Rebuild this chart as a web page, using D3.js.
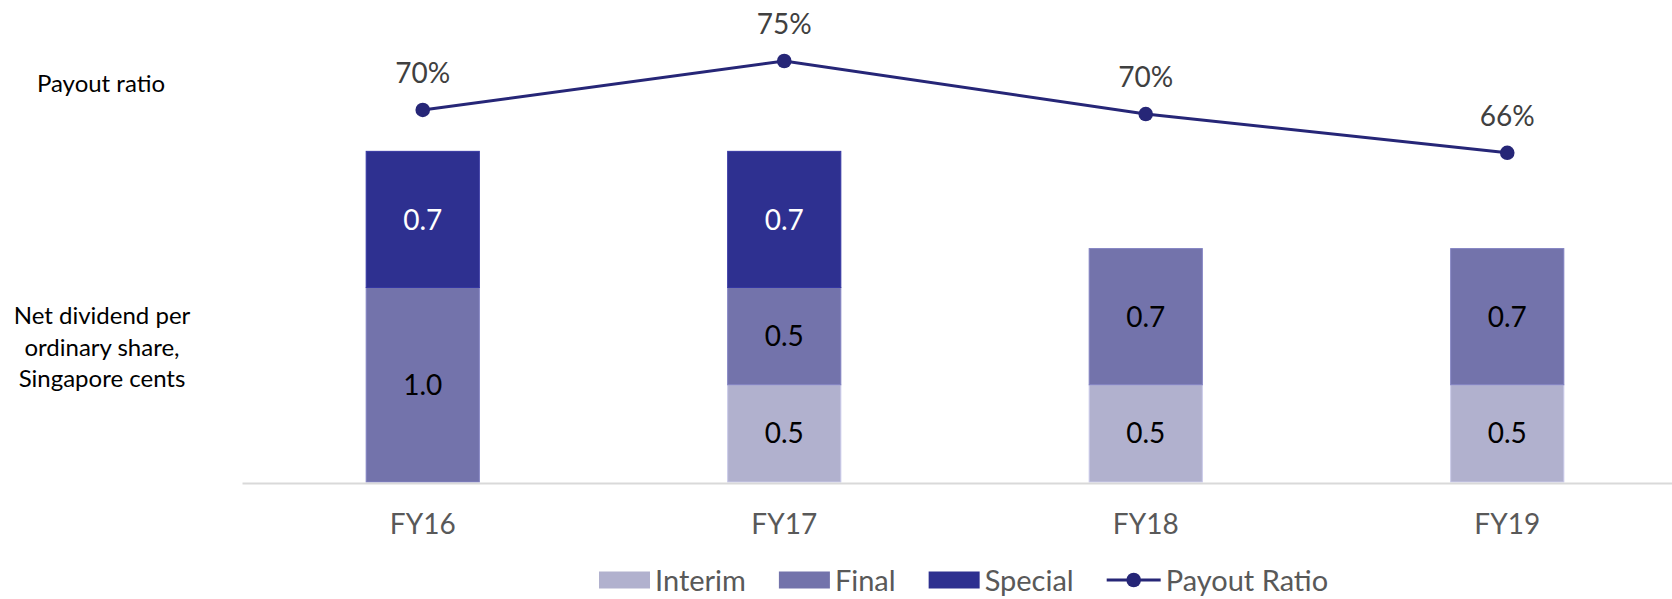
<!DOCTYPE html>
<html>
<head>
<meta charset="utf-8">
<script src="https://cdn.jsdelivr.net/npm/d3@7"></script>
<style>
  html, body { margin: 0; padding: 0; background: #fff; }
  svg { display: block; font-family: Lato, "Open Sans", sans-serif; }
</style>
</head>
<body>
<svg id="chart" width="1672" height="599"></svg>
<script>
// ---- data ----
const categories = ["FY16", "FY17", "FY18", "FY19"];
const seriesNames = ["Interim", "Final", "Special"];
const interim = [0, 0.5, 0.5, 0.5];
const finalDiv = [1.0, 0.5, 0.7, 0.7];
const special = [0.7, 0.7, 0, 0];
const payoutRatio = [0.702, 0.75, 0.698, 0.66];
const lineName = "Payout Ratio";
const leftLabelTop = ["Payout ratio"];
const leftLabelBottom = ["Net dividend per", "ordinary share,", "Singapore cents"];

// ---- styles ----
const colors = { Interim: "#B1B1CE", Final: "#7373AB", Special: "#2E3090" };
const labelColors = { Interim: "#000", Final: "#000", Special: "#fff" };
const lineColor = "#262677";

const svg = d3.select("#chart");

const rows = categories.map((c, i) => ({ cat: c, Interim: interim[i], Final: finalDiv[i], Special: special[i] }));
const stacked = d3.stack().keys(seriesNames)(rows);

const x = d3.scaleBand().domain(categories).range([242, 1688]).paddingInner(0.687).paddingOuter(0.3435);
const y = d3.scaleLinear().domain([0, 2]).range([482, 93]);
const y2 = d3.scaleLinear().domain([0.6, 0.8]).range([214, 10]);

// bars
const layer = svg.append("g").selectAll("g").data(stacked).join("g")
  .attr("fill", d => colors[d.key]);
layer.selectAll("rect").data(d => d.map(s => ({ key: d.key, s })))
  .join("rect")
  .filter(d => d.s[1] - d.s[0] > 0)
  .attr("x", d => x(d.s.data.cat))
  .attr("y", d => y(d.s[1]))
  .attr("width", x.bandwidth())
  .attr("height", d => y(d.s[0]) - y(d.s[1]))
  .attr("stroke", d => d3.color(colors[d.key]).brighter(0.35))
  .attr("stroke-width", 1);

// bar value labels
const fmt = d3.format(".1f");
stacked.forEach(ser => {
  svg.append("g").selectAll("text")
    .data(ser.filter(s => s[1] - s[0] > 0))
    .join("text")
    .attr("x", s => x(s.data.cat) + x.bandwidth() / 2)
    .attr("y", s => (y(s[0]) + y(s[1])) / 2)
    .attr("dy", "0.36em")
    .attr("text-anchor", "middle")
    .attr("font-size", 28)
    .attr("fill", labelColors[ser.key])
    .text(s => fmt(s[1] - s[0]));
});

// x axis
const axis = svg.append("g").attr("transform", "translate(0,483)")
  .call(d3.axisBottom(x).tickSize(0).tickPadding(0));
axis.select(".domain").attr("stroke", "#D9D9D9").attr("stroke-width", 2);
axis.selectAll("text")
  .attr("y", 51).attr("dy", 0)
  .attr("font-size", 28)
  .attr("font-family", "Lato, sans-serif")
  .attr("fill", "#595959");

// payout line
const lineGen = d3.line().x((d, i) => x(categories[i]) + x.bandwidth() / 2).y(d => y2(d));
svg.append("path").datum(payoutRatio)
  .attr("d", lineGen)
  .attr("fill", "none").attr("stroke", lineColor).attr("stroke-width", 3);
svg.append("g").selectAll("circle").data(payoutRatio).join("circle")
  .attr("cx", (d, i) => x(categories[i]) + x.bandwidth() / 2)
  .attr("cy", d => y2(d))
  .attr("r", 7.3)
  .attr("fill", lineColor);
const pct = d3.format(".0%");
svg.append("g").selectAll("text").data(payoutRatio).join("text")
  .attr("x", (d, i) => x(categories[i]) + x.bandwidth() / 2)
  .attr("y", d => y2(d) - 27)
  .attr("text-anchor", "middle")
  .attr("font-size", 28)
  .attr("fill", "#404040")
  .text(d => pct(d));

// left side labels
svg.append("text").attr("x", 101).attr("y", 92).attr("text-anchor", "middle")
  .attr("font-size", 24).attr("fill", "#000").text(leftLabelTop[0]);
svg.append("g").selectAll("text").data(leftLabelBottom).join("text")
  .attr("x", 102).attr("y", (d, i) => 324 + i * 31.6)
  .attr("text-anchor", "middle").attr("font-size", 24).attr("fill", "#000")
  .text(d => d);

// legend
const legend = svg.append("g");
let lx = 599;
const ly = 591;
const lmid = 580;
seriesNames.forEach(name => {
  legend.append("rect").attr("x", lx).attr("y", lmid - 8.5).attr("width", 51).attr("height", 17)
    .attr("fill", colors[name]);
  const t = legend.append("text").attr("x", lx + 56).attr("y", ly)
    .attr("font-size", 29).attr("fill", "#595959").text(name);
  lx += 56 + t.node().getComputedTextLength() + 33;
});
legend.append("line").attr("x1", lx).attr("x2", lx + 54).attr("y1", lmid).attr("y2", lmid)
  .attr("stroke", lineColor).attr("stroke-width", 3);
legend.append("circle").attr("cx", lx + 27).attr("cy", lmid).attr("r", 7.3).attr("fill", lineColor);
legend.append("text").attr("x", lx + 59).attr("y", ly)
  .attr("font-size", 29).attr("fill", "#595959").text(lineName);
</script>
</body>
</html>
